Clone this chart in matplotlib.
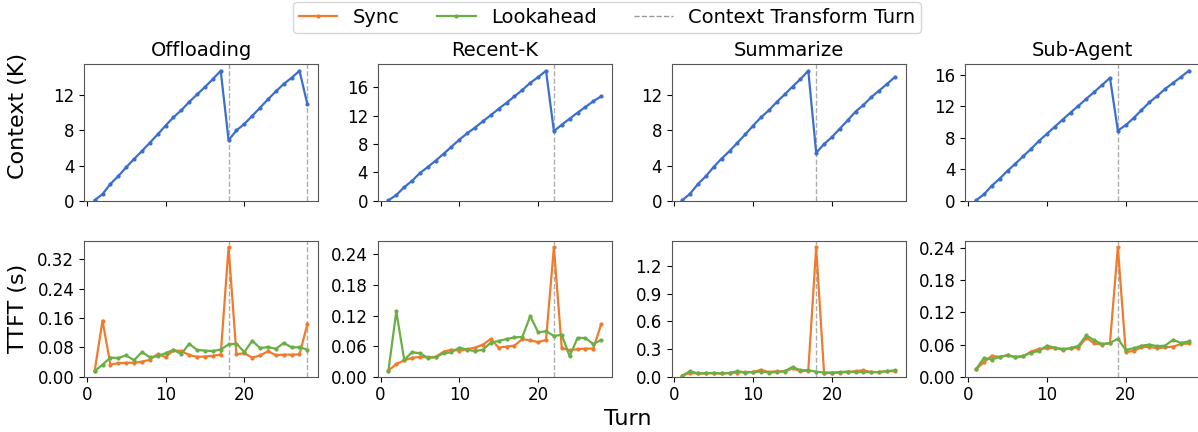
import matplotlib
matplotlib.use('Agg')
import matplotlib.pyplot as plt
from matplotlib.lines import Line2D
from matplotlib.ticker import MultipleLocator

turns = list(range(1, 29))
titles = ["Offloading", "Recent-K", "Summarize", "Sub-Agent"]

# context length (K tokens) per turn
ctx_offloading = [0.05, 0.75, 1.9, 2.8, 3.8, 4.75, 5.65, 6.6, 7.55, 8.55, 9.5, 10.3, 11.25, 12.1,
                  12.95, 13.85, 14.8, 6.9, 8.0, 8.75, 9.65, 10.6, 11.55, 12.45, 13.3, 14.0, 14.8, 11.0]
ctx_recentk = [0.05, 0.8, 1.9, 2.8, 3.9, 4.75, 5.65, 6.6, 7.6, 8.6, 9.5, 10.3, 11.2, 12.05,
               12.95, 13.8, 14.7, 15.6, 16.6, 17.4, 18.3, 9.8, 10.7, 11.55, 12.4, 13.2, 14.0, 14.7]
ctx_summarize = [0.05, 0.8, 1.9, 2.8, 3.85, 4.8, 5.65, 6.6, 7.55, 8.55, 9.5, 10.3, 11.25, 12.1,
                 13.0, 13.85, 14.8, 5.45, 6.45, 7.25, 8.2, 9.15, 10.15, 10.9, 11.8, 12.55, 13.3, 14.1]
ctx_subagent = [0.05, 0.8, 1.9, 2.8, 3.8, 4.7, 5.65, 6.6, 7.6, 8.5, 9.4, 10.3, 11.2, 12.05,
                12.95, 13.8, 14.7, 15.6, 8.9, 9.6, 10.5, 11.5, 12.5, 13.3, 14.2, 14.95, 15.7, 16.5]

# TTFT (s)
sync_offloading = [0.015, 0.153, 0.033, 0.037, 0.038, 0.038, 0.041, 0.046, 0.062, 0.053, 0.072, 0.070, 0.059, 0.054,
                   0.055, 0.057, 0.060, 0.353, 0.061, 0.064, 0.052, 0.058, 0.069, 0.059, 0.060, 0.060, 0.061, 0.143]
look_offloading = [0.015, 0.033, 0.052, 0.051, 0.058, 0.045, 0.067, 0.053, 0.056, 0.064, 0.073, 0.062, 0.090, 0.073,
                   0.071, 0.070, 0.074, 0.088, 0.090, 0.067, 0.098, 0.078, 0.081, 0.076, 0.092, 0.080, 0.080, 0.074]

sync_recentk = [0.012, 0.025, 0.032, 0.037, 0.039, 0.038, 0.039, 0.049, 0.053, 0.051, 0.054, 0.057, 0.063, 0.074,
                0.057, 0.059, 0.061, 0.074, 0.071, 0.068, 0.072, 0.254, 0.056, 0.052, 0.054, 0.055, 0.055, 0.103]
look_recentk = [0.012, 0.128, 0.033, 0.048, 0.046, 0.037, 0.038, 0.046, 0.048, 0.057, 0.053, 0.050, 0.053, 0.067,
                0.070, 0.074, 0.077, 0.078, 0.119, 0.087, 0.089, 0.080, 0.082, 0.040, 0.076, 0.076, 0.064, 0.072]

sync_summarize = [0.012, 0.040, 0.035, 0.035, 0.038, 0.035, 0.040, 0.045, 0.050, 0.050, 0.075, 0.050, 0.060, 0.055,
                  0.090, 0.060, 0.065, 1.400, 0.040, 0.040, 0.045, 0.050, 0.060, 0.070, 0.050, 0.050, 0.060, 0.060]
look_summarize = [0.012, 0.060, 0.035, 0.040, 0.040, 0.035, 0.040, 0.060, 0.045, 0.050, 0.055, 0.045, 0.050, 0.060,
                  0.105, 0.070, 0.070, 0.055, 0.045, 0.045, 0.050, 0.055, 0.050, 0.050, 0.050, 0.050, 0.060, 0.070]

sync_subagent = [0.014, 0.027, 0.039, 0.037, 0.040, 0.036, 0.038, 0.047, 0.052, 0.053, 0.054, 0.050, 0.053, 0.054,
                 0.073, 0.062, 0.060, 0.063, 0.242, 0.046, 0.048, 0.055, 0.056, 0.053, 0.055, 0.056, 0.061, 0.062]
look_subagent = [0.014, 0.035, 0.032, 0.037, 0.040, 0.037, 0.039, 0.045, 0.048, 0.058, 0.054, 0.052, 0.053, 0.058,
                 0.077, 0.068, 0.061, 0.063, 0.071, 0.050, 0.053, 0.058, 0.060, 0.057, 0.058, 0.069, 0.063, 0.066]

transform_turns = [[18, 28], [22], [18], [19]]
ttft_steps = [0.08, 0.06, 0.3, 0.06]

ctx_all = [ctx_offloading, ctx_recentk, ctx_summarize, ctx_subagent]
sync_all = [sync_offloading, sync_recentk, sync_summarize, sync_subagent]
look_all = [look_offloading, look_recentk, look_summarize, look_subagent]

c_sync = '#F07B2C'
c_look = '#6AAF45'
c_ctx = '#3B6FCE'
c_vline = '#9a9a9a'

plt.rcParams['axes.edgecolor'] = '#555555'

W, H = 1198, 432
fig = plt.figure(figsize=(W / 100, H / 100), dpi=100)

for i in range(4):
    left = (84 + i * 293.8) / W
    ax1 = fig.add_axes([left, 1 - 200.7 / H, 234 / W, 136.4 / H])
    ax2 = fig.add_axes([left, 1 - 376.7 / H, 234 / W, 135.7 / H], sharex=ax1)

    for t in transform_turns[i]:
        ax1.axvline(t, color=c_vline, ls='--', lw=1, alpha=0.8, zorder=0)
        ax2.axvline(t, color=c_vline, ls='--', lw=1, alpha=0.8, zorder=0)

    ax1.plot(turns, ctx_all[i], color=c_ctx, marker='.', ms=4, lw=1.6)
    ax1.set_ylim(bottom=0)
    ax1.yaxis.set_major_locator(MultipleLocator(4))
    ax1.set_title(titles[i], fontsize=14)
    ax1.tick_params(labelsize=12, labelbottom=False)

    ax2.plot(turns, sync_all[i], color=c_sync, marker='.', ms=4, lw=1.6)
    ax2.plot(turns, look_all[i], color=c_look, marker='.', ms=4, lw=1.6)
    ax2.set_ylim(bottom=0)
    ax2.yaxis.set_major_locator(MultipleLocator(ttft_steps[i]))
    ax2.xaxis.set_major_locator(MultipleLocator(10))
    ax2.tick_params(labelsize=12)

fig.text(18 / W, 1 - 116 / H, "Context (K)", rotation=90, ha='center', va='center', fontsize=16)
fig.text(18 / W, 1 - 308 / H, "TTFT (s)", rotation=90, ha='center', va='center', fontsize=16)
fig.text(628 / W, 1 - 419 / H, "Turn", ha='center', va='center', fontsize=16)

handles = [
    Line2D([], [], color=c_sync, marker='.', ms=4, lw=1.6),
    Line2D([], [], color=c_look, marker='.', ms=4, lw=1.6),
    Line2D([], [], color=c_vline, ls='--', lw=1),
]
fig.legend(handles, ["Sync", "Lookahead", "Context Transform Turn"], loc='upper center',
           bbox_to_anchor=(607 / W, 1.0), ncol=3, fontsize=14, frameon=True,
           borderpad=0.3, borderaxespad=0.1, handletextpad=0.8, columnspacing=1.9)

fig.savefig("out.png", dpi=100)
